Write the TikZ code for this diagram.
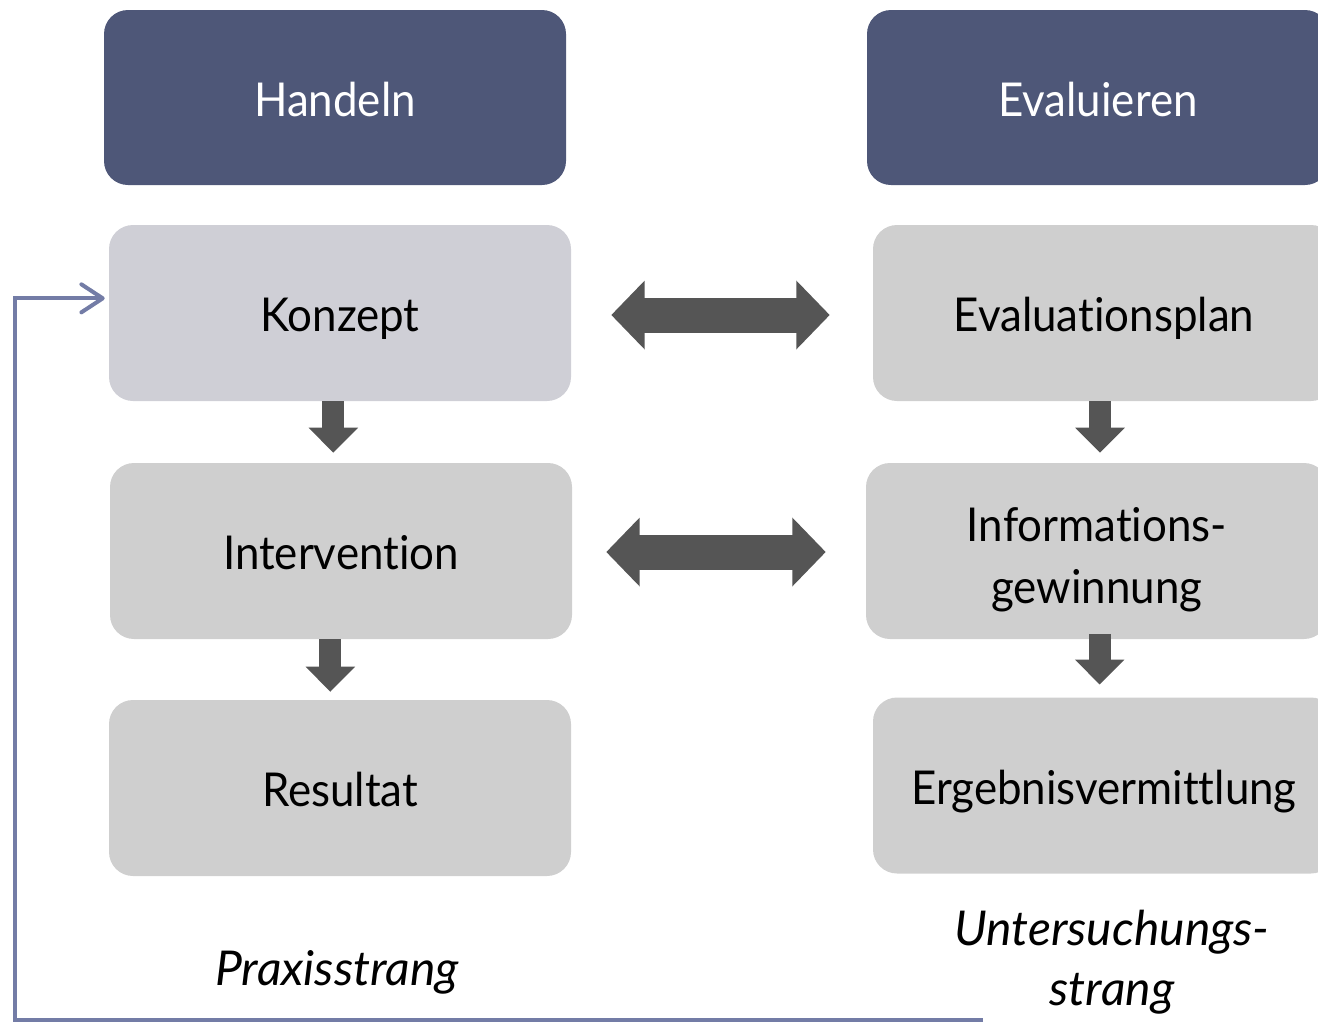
\documentclass[tikz,border=0pt]{standalone}
\usepackage{fontspec}
\setmainfont{Lato}[Ligatures=NoCommon]
\newfontfamily\boxfont{Lato}[FakeStretch=0.94, Ligatures=NoCommon]
\usetikzlibrary{arrows.meta}

\definecolor{headblue}{RGB}{78,87,120}
\definecolor{planlav}{RGB}{207,207,214}
\definecolor{stepgray}{RGB}{207,207,207}
\definecolor{arrowgray}{RGB}{85,85,85}
\definecolor{loopblue}{RGB}{115,124,166}

\tikzset{
  headbox/.style={rounded corners=18pt, fill=headblue, text=white,
    minimum width=346.5pt, minimum height=131.25pt, inner sep=0pt,
    font=\boxfont\fontsize{35}{42}\selectfont, text height=29pt, text depth=0pt},
  stepbox/.style={rounded corners=18pt, fill=stepgray, text=black,
    minimum width=346.5pt, minimum height=132pt, inner sep=0pt,
    font=\boxfont\fontsize{35}{46.5}\selectfont, align=center},
  oneline/.style={text height=28pt, text depth=0pt},
  twoline/.style={text height=78pt, text depth=0pt},
  strandlabel/.style={font=\fontsize{36}{45}\selectfont\itshape, align=center, inner sep=0pt},
  downarrow/.style={draw=arrowgray, line width=16.5pt,
    -{Triangle[length=18.75pt, width=36pt]}},
  bothways/.style={draw=arrowgray, line width=26.25pt,
    {Triangle[length=25.1pt, width=50.25pt]}-{Triangle[length=25.1pt, width=50.25pt]}},
  loopline/.style={draw=loopblue, line width=3pt, line join=miter,
    -{Straight Barb[length=16pt, width=21pt, line cap=round, line join=round]}}
}

\begin{document}
\begin{tikzpicture}[x=0.75pt, y=-0.75pt]
  \useasboundingbox (0,0) rectangle (1318,1022);
  \clip (0,0) rectangle (1318,1022);

  % column headers
  \node[headbox] (handeln)    at (335,97.5)  {Handeln};
  \node[headbox] (evaluieren) at (1098,97.5) {Evaluieren};

  % practice strand
  \node[stepbox, oneline, fill=planlav] (konzept) at (340,313) {Konzept};
  \node[stepbox, oneline] (intervention) at (341,551) {Intervention};
  \node[stepbox, oneline] (resultat)     at (340,788) {Resultat};

  % research strand
  \node[stepbox, oneline] (evalplan) at (1104,313) {Evaluationsplan};
  \node[stepbox, twoline] (infogew)  at (1097,551) {Informations-\\gewinnung};
  \node[stepbox, oneline] (ergebnis) at (1104,785.5) {Ergebnisvermittlung};

  % strand captions
  \node[strandlabel, anchor=base] (praxis) at (337,985) {Praxisstrang};
  \node[strandlabel, anchor=base] (unters) at (1112,1005) {Untersuchungs-\\strang};

  % downward steps
  \draw[downarrow] ([xshift=-5pt]konzept.south)
    -- ([xshift=-5pt,yshift=7.5pt]konzept.south |- intervention.north);
  \draw[downarrow] ([xshift=-8pt]intervention.south)
    -- ([xshift=-8pt,yshift=6pt]intervention.south |- resultat.north);
  \draw[downarrow] ([xshift=-3pt]evalplan.south)
    -- ([xshift=-3pt,yshift=7.5pt]evalplan.south |- infogew.north);
  \draw[downarrow] ([xshift=2pt,yshift=4pt]infogew.south)
    -- ([xshift=2pt,yshift=9.5pt]infogew.south |- ergebnis.north);

  % links between the strands
  \draw[bothways, shorten <=30pt, shorten >=32.25pt]
    ([yshift=-1.5pt]konzept.east) -- ([yshift=-1.5pt]konzept.east -| evalplan.west);
  \draw[bothways, shorten <=25.5pt, shorten >=30pt]
    ([yshift=-0.75pt]intervention.east) -- ([yshift=-0.75pt]intervention.east -| infogew.west);

  % feedback loop from the bottom back to the concept
  \coordinate (loopend) at (983,1020);
  \coordinate (loopcorner) at (15,1020);
  \draw[loopline, shorten >=3pt]
    (loopend) -- (loopcorner) |- ([yshift=11pt]konzept.west);
\end{tikzpicture}
\end{document}
